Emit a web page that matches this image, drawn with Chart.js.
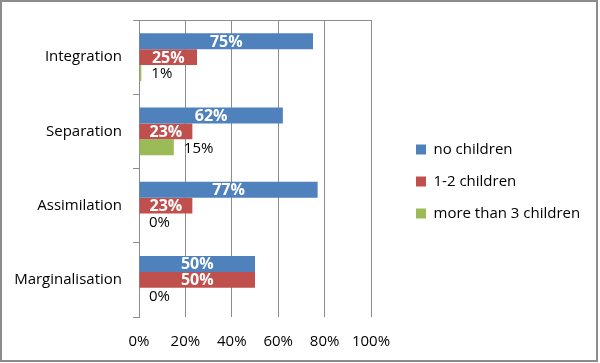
<!DOCTYPE html>
<html lang="en">

<head>
    <meta charset="UTF-8">
    <title>Acculturation strategies by number of children</title>
    <script src="https://cdn.jsdelivr.net/npm/chart.js"></script>
    <style>
        body { margin: 0; background: #fff; }
        #grafico { display: block; }
    </style>
</head>

<body>
    <canvas id="grafico" width="600" height="363"></canvas>

    <script>
        // data (percent)
        var categorias = ['Integration', 'Separation', 'Assimilation', 'Marginalisation'];
        var series = ['no children', '1-2 children', 'more than 3 children'];
        var semFilhos = [75, 62, 77, 50];
        var umDoisFilhos = [25, 23, 23, 50];
        var maisTresFilhos = [1, 15, 0, 0];
        var rotulosEixo = ['0%', '20%', '40%', '60%', '80%', '100%'];

        var cinza = '#8c8c8c';
        Chart.defaults.font.family = "'Open Sans', sans-serif";
        Chart.defaults.font.size = 15;
        Chart.defaults.color = '#000';

        // moldura e fundo branco
        var moldura = {
            id: 'moldura',
            beforeDraw: function (chart) {
                var ctx = chart.ctx;
                ctx.save();
                ctx.fillStyle = '#fff';
                ctx.fillRect(0, 0, chart.width, chart.height);
                ctx.restore();
            },
            afterDraw: function (chart) {
                var ctx = chart.ctx;
                ctx.save();
                ctx.strokeStyle = cinza;
                ctx.lineWidth = 2;
                ctx.strokeRect(1, 1, 596, 360);
                ctx.restore();
            }
        };

        // rotulos dos valores
        var rotulos = {
            id: 'rotulos',
            afterDatasetsDraw: function (chart) {
                var ctx = chart.ctx;
                ctx.save();
                ctx.textBaseline = 'middle';
                chart.data.datasets.forEach(function (ds, i) {
                    chart.getDatasetMeta(i).data.forEach(function (bar, j) {
                        var p = bar.getProps(['x', 'y', 'base'], true);
                        var txt = ds.data[j] + '%';
                        if (i < 2) {
                            ctx.font = "bold 16px 'Open Sans', sans-serif";
                            ctx.fillStyle = '#fff';
                            ctx.textAlign = 'center';
                            ctx.fillText(txt, (p.x + p.base) / 2, p.y + 1);
                        } else {
                            ctx.font = "15px 'Open Sans', sans-serif";
                            ctx.fillStyle = '#000';
                            ctx.textAlign = 'left';
                            ctx.fillText(txt, p.x + 10, p.y + 1);
                        }
                    });
                });
                ctx.restore();
            }
        };

        // largura fixa da legenda
        var larguraLegenda = {
            id: 'larguraLegenda',
            afterInit: function (chart) {
                var fit = chart.legend.fit;
                chart.legend.fit = function () {
                    fit.call(this);
                    this.width = 201;
                };
            }
        };

        new Chart(document.getElementById('grafico').getContext('2d'), {
            type: 'bar',
            data: {
                labels: categorias,
                datasets: [{
                    label: series[0],
                    data: semFilhos,
                    backgroundColor: '#4F81BD'
                }, {
                    label: series[1],
                    data: umDoisFilhos,
                    backgroundColor: '#C0504D'
                }, {
                    label: series[2],
                    data: maisTresFilhos,
                    backgroundColor: '#9BBB59'
                }]
            },
            options: {
                indexAxis: 'y',
                responsive: false,
                animation: false,
                categoryPercentage: 0.645,
                barPercentage: 1,
                layout: { padding: 0 },
                plugins: {
                    tooltip: { enabled: false },
                    legend: {
                        position: 'right',
                        labels: {
                            boxWidth: 10,
                            boxHeight: 10,
                            padding: 17,
                            color: '#000',
                            font: { size: 15 }
                        }
                    }
                },
                scales: {
                    x: {
                        type: 'linear',
                        min: 0,
                        max: 100,
                        grid: { color: cinza, drawTicks: false },
                        border: { display: false },
                        ticks: {
                            stepSize: 20,
                            padding: 16,
                            callback: function (v, i) { return rotulosEixo[i]; }
                        },
                        afterFit: function (s) { s.height = 46; }
                    },
                    xTopo: {
                        type: 'linear',
                        position: 'top',
                        min: 0,
                        max: 100,
                        display: true,
                        grid: { display: false },
                        ticks: { display: false },
                        border: { display: true, color: cinza },
                        afterFit: function (s) { s.height = 19; }
                    },
                    y: {
                        type: 'category',
                        grid: {
                            color: cinza,
                            drawOnChartArea: false,
                            tickLength: 6,
                            offset: true
                        },
                        border: { color: cinza },
                        ticks: { padding: 11 },
                        afterFit: function (s) { s.width = 139; }
                    },
                    yDireita: {
                        type: 'category',
                        position: 'right',
                        display: true,
                        grid: { display: false },
                        ticks: { display: false },
                        border: { display: false },
                        afterFit: function (s) { s.width = 28; }
                    }
                }
            },
            plugins: [moldura, rotulos, larguraLegenda]
        });
    </script>
</body>

</html>
